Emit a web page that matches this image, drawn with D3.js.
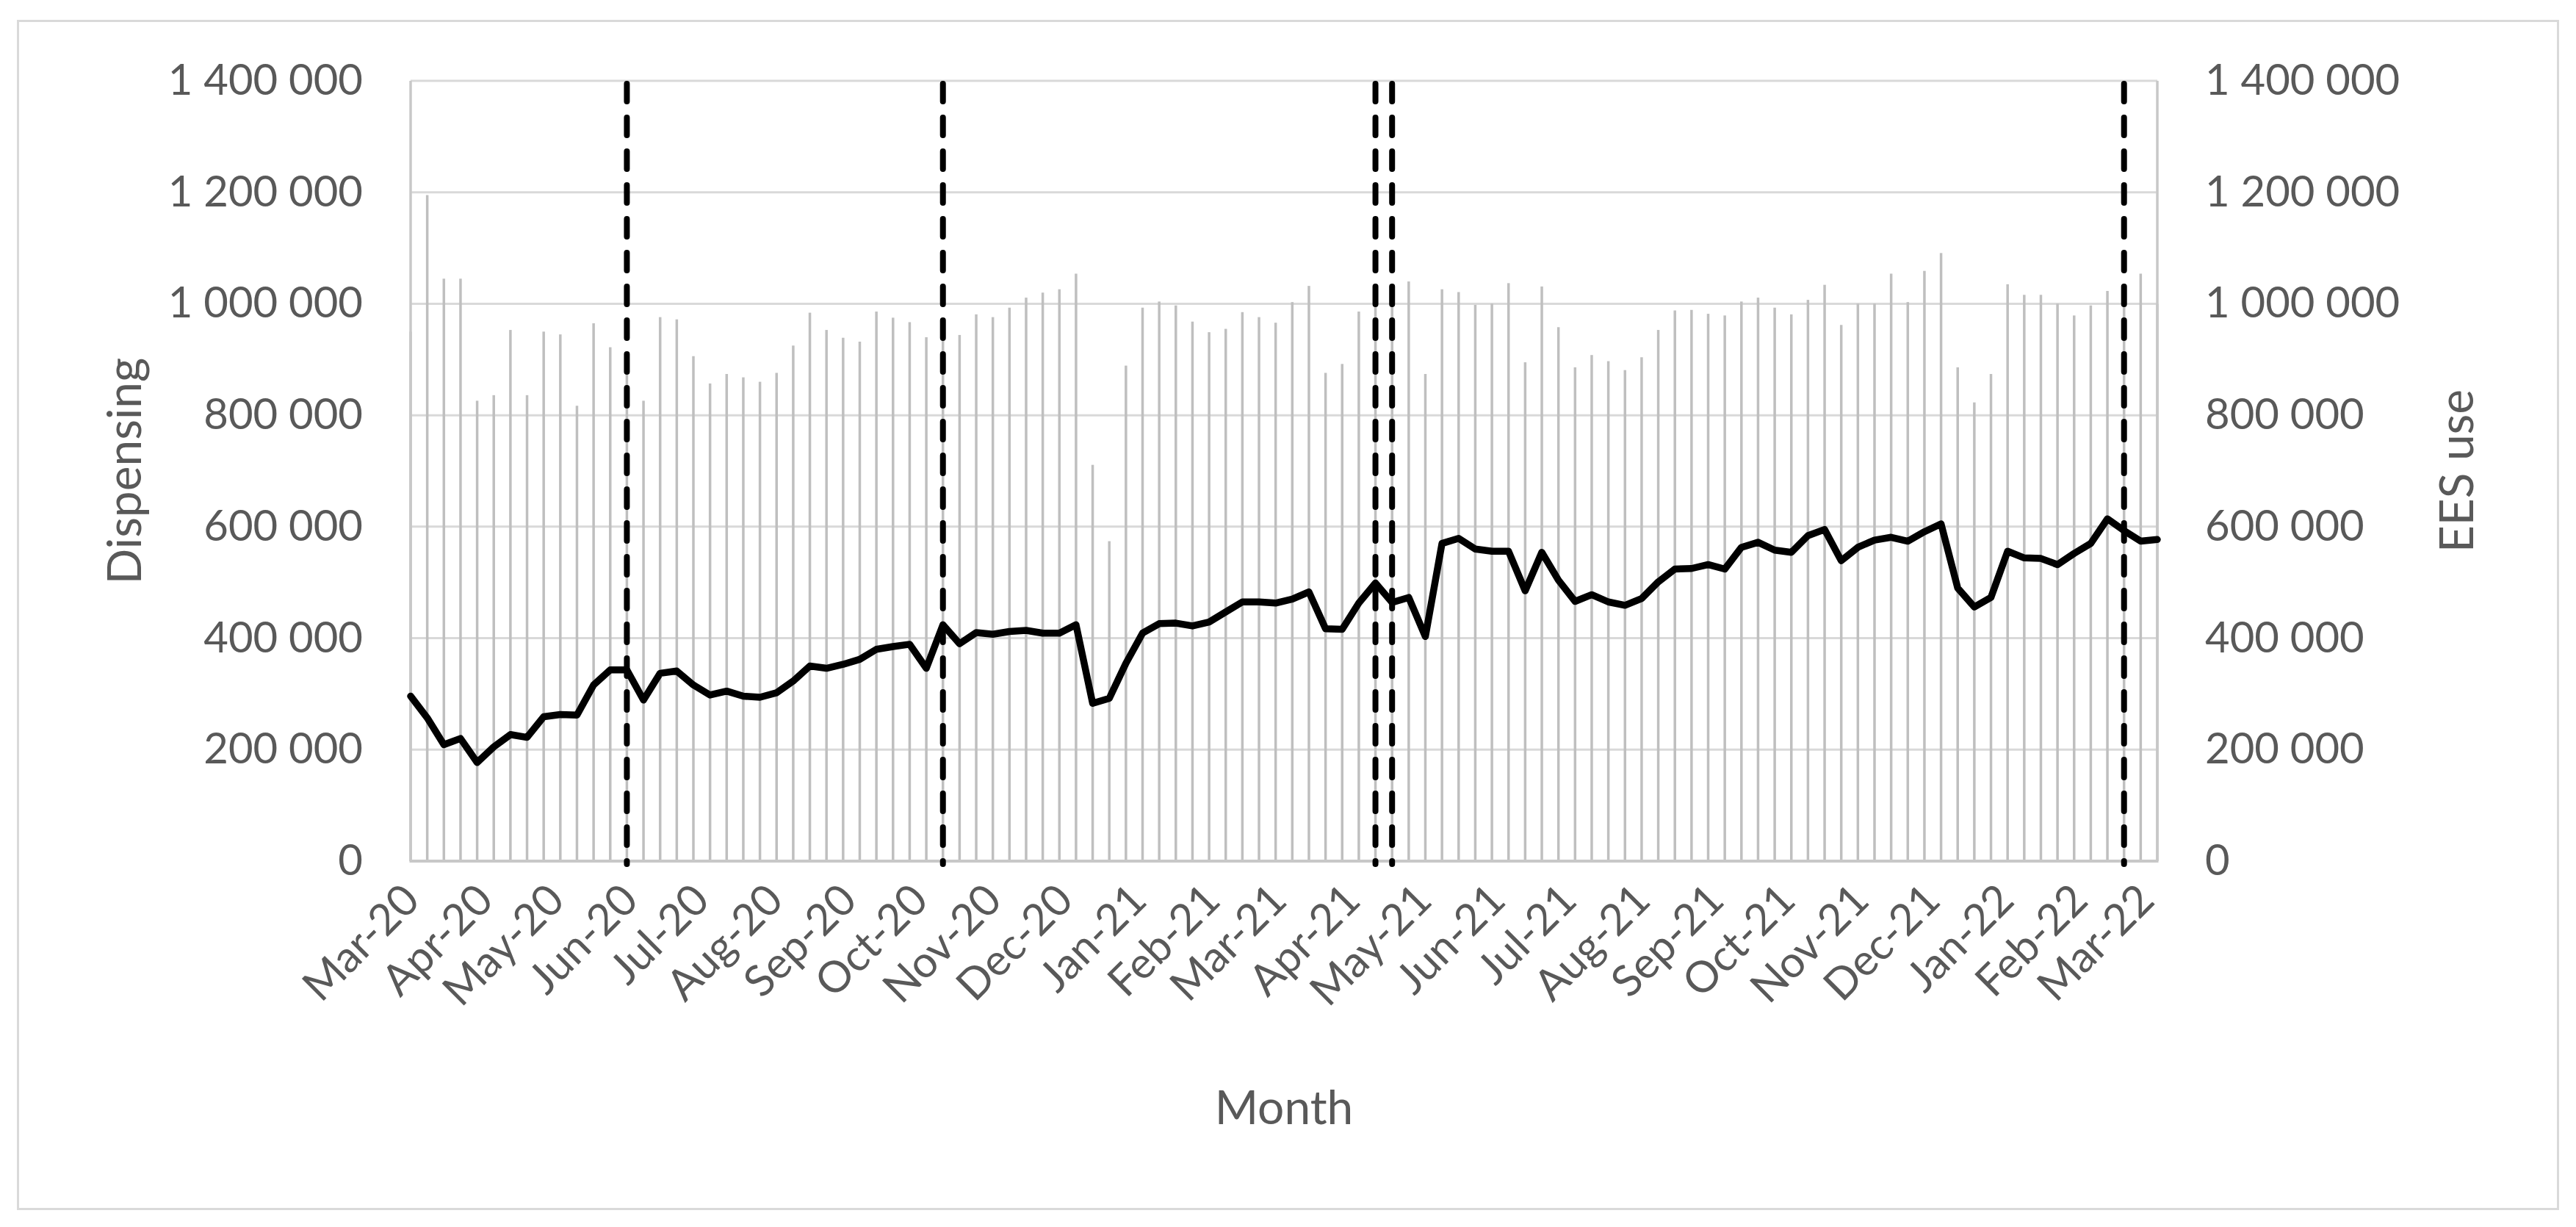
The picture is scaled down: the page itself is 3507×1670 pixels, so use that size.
<!DOCTYPE html>
<html>
<head>
<meta charset="utf-8">
<script src="https://cdn.jsdelivr.net/npm/d3@7"></script>
<style>
  html, body { margin: 0; padding: 0; background: #ffffff; }
  svg { display: block; }
  text { font-family: Lato, "Open Sans", "DejaVu Sans", sans-serif; fill: #595959; }
</style>
</head>
<body>
<svg id="chart" width="3507" height="1670"></svg>
<script>
// ---------------- DATA ----------------
// Weekly observations, first week starting 2020-03-01 (106 weeks)
const firstWeek = "2020-03-01";
const weekCount = 106;

// Dispensing (bars, left axis), weekly
const dispensing = [
  950000,1195000,1045000,1045000,826000,836000,953000,836000,950000,945000,
  817000,965000,922000,880000,826000,976000,972000,906000,857000,874000,
  868000,860000,876000,925000,984000,953000,939000,932000,986000,975000,
  967000,940000,960000,944000,981000,976000,993000,1011000,1020000,1026000,
  1054000,711000,574000,889000,993000,1004000,997000,968000,949000,955000,
  985000,976000,966000,1003000,1032000,876000,892000,986000,1000000,1000000,
  1040000,874000,1026000,1021000,998000,1000000,1037000,895000,1031000,958000,
  886000,908000,897000,881000,904000,953000,988000,989000,982000,979000,
  1004000,1011000,993000,981000,1007000,1034000,962000,1000000,1000000,1054000,
  1003000,1059000,1091000,886000,823000,874000,1035000,1016000,1016000,1000000,
  979000,997000,1023000,1000000,1054000,1000000
];

// EES use (line, right axis), weekly
const eesUse = [
  296000,257000,209000,220000,177000,205000,227000,222000,259000,263000,
  262000,316000,343000,343000,289000,337000,341000,316000,298000,305000,
  296000,294000,302000,323000,350000,346000,353000,362000,380000,385000,
  389000,346000,424000,390000,410000,407000,412000,414000,409000,409000,
  424000,283000,292000,355000,409000,426000,427000,422000,429000,447000,
  465000,465000,463000,470000,483000,417000,416000,463000,499000,464000,
  473000,403000,570000,579000,560000,556000,556000,485000,554000,504000,
  466000,478000,465000,459000,471000,501000,524000,525000,532000,524000,
  563000,572000,558000,554000,584000,595000,539000,563000,576000,581000,
  574000,591000,605000,490000,456000,473000,556000,544000,543000,532000,
  552000,570000,614000,593000,574000,577000
];

// Event markers (dashed vertical lines)
const eventDates = ["2020-05-31", "2020-10-11", "2021-04-11", "2021-04-18", "2022-02-20"];

// Month tick labels
const monthTickDates = ["2020-03-01","2020-04-01","2020-05-01","2020-06-01","2020-07-01","2020-08-01",
  "2020-09-01","2020-10-01","2020-11-01","2020-12-01","2021-01-01","2021-02-01","2021-03-01",
  "2021-04-01","2021-05-01","2021-06-01","2021-07-01","2021-08-01","2021-09-01","2021-10-01",
  "2021-11-01","2021-12-01","2022-01-01","2022-02-01","2022-03-01"];
const monthTickLabels = ["Mar-20","Apr-20","May-20","Jun-20","Jul-20","Aug-20","Sep-20","Oct-20",
  "Nov-20","Dec-20","Jan-21","Feb-21","Mar-21","Apr-21","May-21","Jun-21","Jul-21","Aug-21",
  "Sep-21","Oct-21","Nov-21","Dec-21","Jan-22","Feb-22","Mar-22"];

const yTicks = [0, 200000, 400000, 600000, 800000, 1000000, 1200000, 1400000];

const leftTitle = "Dispensing";
const rightTitle = "EES use";
const xTitle = "Month";

// ---------------- DRAW ----------------
const parse = d3.utcParse("%Y-%m-%d");
const start = parse(firstWeek);
const weeks = d3.range(weekCount).map(i => d3.utcDay.offset(start, 7 * i));

const svg = d3.select("#chart");
const plot = { left: 559, right: 2937, top: 110, bottom: 1172 };

// outer chart border
svg.append("rect")
  .attr("x", 24.5).attr("y", 28.5)
  .attr("width", 3458).attr("height", 1617)
  .attr("fill", "#ffffff").attr("stroke", "#d9d9d9").attr("stroke-width", 3);

const x = d3.scaleUtc()
  .domain([weeks[0], weeks[weeks.length - 1]])
  .range([plot.left, plot.right]);

const yL = d3.scaleLinear().domain([0, 1400000]).range([plot.bottom, plot.top]);
const yR = d3.scaleLinear().domain([0, 1400000]).range([plot.bottom, plot.top]);

const fmt = v => d3.format(",")(v).replace(/,/g, " ");

// gridlines
svg.append("g")
  .selectAll("line").data(yTicks.filter(d => d > 0)).join("line")
  .attr("x1", plot.left).attr("x2", plot.right)
  .attr("y1", d => yL(d)).attr("y2", d => yL(d))
  .attr("stroke", "#d9d9d9").attr("stroke-width", 3);

// bars (date axis -> thin columns)
svg.append("g")
  .selectAll("rect").data(dispensing).join("rect")
  .attr("x", (d, i) => x(weeks[i]) - 1.75)
  .attr("width", 3.5)
  .attr("y", d => yL(d))
  .attr("height", d => yL(0) - yL(d))
  .attr("fill", "#bfbfbf");

// plot side lines and bottom axis line
svg.append("line").attr("x1", plot.left).attr("x2", plot.left)
  .attr("y1", plot.top).attr("y2", plot.bottom)
  .attr("stroke", "#c8c8c8").attr("stroke-width", 3.5);
svg.append("line").attr("x1", plot.right).attr("x2", plot.right)
  .attr("y1", plot.top).attr("y2", plot.bottom)
  .attr("stroke", "#c8c8c8").attr("stroke-width", 3.5);
svg.append("line").attr("x1", plot.left - 1.5).attr("x2", plot.right + 1.5)
  .attr("y1", plot.bottom).attr("y2", plot.bottom)
  .attr("stroke", "#c8c8c8").attr("stroke-width", 4);

// Left axis
const axL = d3.axisLeft(yL).tickValues(yTicks).tickFormat(fmt).tickSize(0).tickPadding(65);
const gL = svg.append("g").attr("transform", `translate(${plot.left},0)`).call(axL);
gL.select(".domain").remove();
gL.selectAll("text").style("font-size", "58px").attr("fill", "#595959");

// Right axis
const axR = d3.axisRight(yR).tickValues(yTicks).tickFormat(fmt).tickSize(0).tickPadding(65);
const gR = svg.append("g").attr("transform", `translate(${plot.right},0)`).call(axR);
gR.select(".domain").remove();
gR.selectAll("text").style("font-size", "58px").attr("fill", "#595959");

// X axis (month labels rotated)
const axX = d3.axisBottom(x)
  .tickValues(monthTickDates.map(parse))
  .tickFormat((d, i) => monthTickLabels[i])
  .tickSize(0).tickPadding(0);
const gX = svg.append("g").attr("transform", `translate(0,${plot.bottom + 42})`).call(axX);
gX.select(".domain").remove();
gX.selectAll("text")
  .style("font-size", "59px").attr("fill", "#595959")
  .attr("text-anchor", "end")
  .attr("y", 0).attr("dy", "0.35em").attr("x", 0)
  .attr("transform", "rotate(-45)");

// event dashed lines
svg.append("g")
  .selectAll("line").data(eventDates.map(parse)).join("line")
  .attr("x1", d => x(d)).attr("x2", d => x(d))
  .attr("y1", plot.top + 4).attr("y2", plot.bottom + 4)
  .attr("stroke", "#000000").attr("stroke-width", 8)
  .attr("stroke-dasharray", "24 22").attr("stroke-linecap", "round");

// EES line
const line = d3.line()
  .x((d, i) => x(weeks[i]))
  .y(d => yR(d))
  .curve(d3.curveLinear);
svg.append("path").datum(eesUse)
  .attr("d", line)
  .attr("fill", "none").attr("stroke", "#000000")
  .attr("stroke-width", 9.5).attr("stroke-linejoin", "round").attr("stroke-linecap", "round");

// Titles
svg.append("text")
  .attr("transform", `translate(192,${(plot.top + plot.bottom) / 2}) rotate(-90)`)
  .attr("text-anchor", "middle")
  .style("font-size", "64px").text(leftTitle);
svg.append("text")
  .attr("transform", `translate(3367,${(plot.top + plot.bottom) / 2}) rotate(-90)`)
  .attr("text-anchor", "middle")
  .style("font-size", "64px").text(rightTitle);
svg.append("text")
  .attr("x", (plot.left + plot.right) / 2).attr("y", 1530)
  .attr("text-anchor", "middle")
  .style("font-size", "64px").text(xTitle);
</script>
</body>
</html>
